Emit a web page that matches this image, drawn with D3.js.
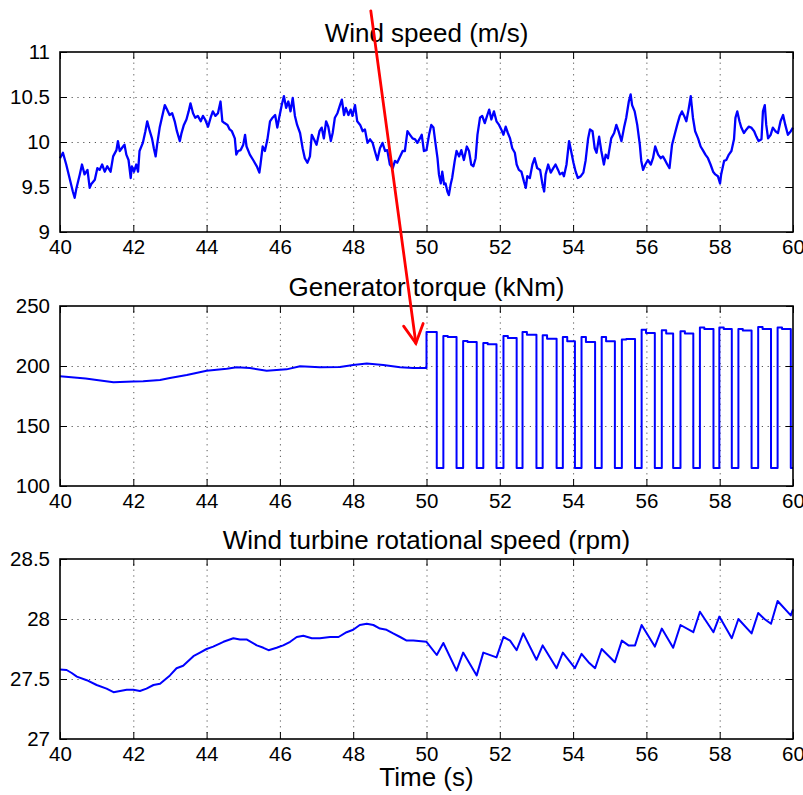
<!DOCTYPE html>
<html>
<head>
<meta charset="utf-8">
<script src="https://cdn.jsdelivr.net/npm/d3@7/dist/d3.min.js"></script>
<style>
  body { margin: 0; background: #fff; }
  svg { font-family: "Liberation Sans", Arial, Helvetica, sans-serif; }
  .grid line { stroke: #555; stroke-width: 1; stroke-dasharray: 1.2,4.6; }
  .grid path { display: none; }
  .tick text { fill: #000; }
</style>
</head>
<body>
<div id="chart"></div>
<script>
// Shared time axis (s)
const timeTicks = [40, 42, 44, 46, 48, 50, 52, 54, 56, 58, 60];

// Wind speed (m/s)
const windTime = [40.00, 40.08, 40.17, 40.26, 40.35, 40.40, 40.45, 40.54, 40.60, 40.67, 40.75, 40.81, 40.85, 40.95, 41.02, 41.08, 41.15, 41.22, 41.29, 41.38,
  41.45, 41.54, 41.58, 41.63, 41.72, 41.76, 41.81, 41.87, 41.93, 41.96, 42.02, 42.08, 42.13, 42.17, 42.26, 42.33, 42.38, 42.45, 42.51, 42.56,
  42.61, 42.65, 42.72, 42.78, 42.86, 42.92, 42.99, 43.06, 43.13, 43.19, 43.27, 43.31, 43.38, 43.45, 43.51, 43.56, 43.63, 43.69, 43.76, 43.84,
  43.90, 43.96, 44.04, 44.11, 44.17, 44.24, 44.31, 44.38, 44.43, 44.49, 44.57, 44.63, 44.69, 44.77, 44.81, 44.86, 44.93,
  45.00, 45.05, 45.09, 45.18, 45.27, 45.37, 45.44, 45.47, 45.53, 45.59, 45.66, 45.73, 45.80, 45.87, 45.93, 45.98, 46.05, 46.11, 46.17, 46.23,
  46.29, 46.35, 46.41, 46.47, 46.55, 46.62, 46.68, 46.75, 46.82, 46.87, 46.93, 47.00, 47.08, 47.14, 47.20, 47.26, 47.32, 47.39, 47.44, 47.50,
  47.57, 47.64, 47.69, 47.75, 47.80, 47.87, 47.93, 47.98, 48.05, 48.11, 48.19, 48.26, 48.32, 48.39, 48.46, 48.53, 48.59, 48.66, 48.73, 48.80,
  48.87, 48.93, 49.00, 49.08, 49.14, 49.20, 49.28, 49.35, 49.41, 49.48, 49.55, 49.62, 49.69, 49.75, 49.82, 49.87, 49.93,
  50.00, 50.07, 50.13, 50.19, 50.25, 50.30, 50.34, 50.39, 50.43, 50.48, 50.52, 50.57, 50.61, 50.66, 50.70, 50.77, 50.82, 50.89, 50.95, 51.02,
  51.10, 51.16, 51.22, 51.28, 51.34, 51.39, 51.46, 51.52, 51.59, 51.66, 51.71, 51.77, 51.84, 51.91, 51.98, 52.04, 52.10, 52.16, 52.22, 52.28,
  52.34, 52.41, 52.46, 52.52, 52.59, 52.66, 52.71, 52.75, 52.82, 52.89, 52.95, 53.02, 53.10, 53.16, 53.21, 53.25, 53.32, 53.39, 53.46, 53.52,
  53.59, 53.64, 53.71, 53.75, 53.82, 53.89, 53.93, 54.01, 54.07, 54.13, 54.21, 54.28, 54.34, 54.41, 54.46, 54.53, 54.59, 54.64, 54.71, 54.77,
  54.84, 54.89, 54.95,
  55.04, 55.12, 55.18, 55.24, 55.32, 55.39, 55.45, 55.52, 55.57, 55.61, 55.68, 55.75, 55.82, 55.86, 55.91, 55.97, 56.04, 56.12, 56.18, 56.24,
  56.32, 56.39, 56.45, 56.52, 56.57, 56.63, 56.70, 56.77, 56.84, 56.91, 56.97, 57.03, 57.09, 57.15, 57.21, 57.27, 57.33, 57.41, 57.48, 57.54,
  57.61, 57.68, 57.75, 57.82, 57.88, 57.95, 58.01, 58.04, 58.12, 58.18, 58.25, 58.32, 58.39, 58.43, 58.48, 58.54, 58.59, 58.66, 58.73, 58.79,
  58.86, 58.94, 59.00, 59.06, 59.14, 59.18, 59.23, 59.27, 59.32, 59.39, 59.45, 59.52, 59.59, 59.66, 59.73, 59.79, 59.86, 59.94, 60.00];
const windSpeed = [9.82, 9.88, 9.75, 9.60, 9.45, 9.38, 9.49, 9.64, 9.75, 9.64, 9.69, 9.49, 9.53, 9.58, 9.71, 9.69, 9.75, 9.67, 9.73, 9.67,
  9.84, 9.91, 10.01, 9.90, 9.95, 9.97, 9.86, 9.80, 9.60, 9.73, 9.67, 9.75, 9.67, 9.90, 9.99, 10.12, 10.23, 10.12, 10.04, 9.93,
  9.84, 9.97, 10.16, 10.27, 10.41, 10.36, 10.30, 10.32, 10.23, 10.12, 10.01, 10.09, 10.19, 10.25, 10.34, 10.43, 10.32, 10.27, 10.29, 10.23,
  10.29, 10.25, 10.17, 10.27, 10.34, 10.29, 10.32, 10.45, 10.23, 10.21, 10.19, 10.14, 10.12, 10.04, 9.86, 9.90, 9.91,
  9.97, 10.08, 9.95, 9.86, 9.80, 9.73, 9.66, 9.75, 9.95, 9.90, 10.03, 10.23, 10.27, 10.30, 10.16, 10.27, 10.41, 10.51, 10.38, 10.45,
  10.34, 10.49, 10.29, 10.19, 10.10, 9.93, 9.82, 9.77, 9.84, 10.08, 10.03, 9.97, 10.12, 10.16, 10.04, 10.23, 10.17, 10.01, 10.10, 10.27,
  10.32, 10.41, 10.47, 10.30, 10.38, 10.30, 10.36, 10.29, 10.41, 10.23, 10.19, 10.12, 10.14, 9.99, 10.03, 9.99, 9.90, 9.80, 9.93, 9.99,
  9.90, 9.91, 9.75, 9.71, 9.79, 9.77, 9.84, 9.90, 9.90, 10.12, 10.08, 10.04, 10.03, 9.99, 10.04, 10.08, 9.90,
  9.91, 10.08, 10.19, 10.16, 9.97, 9.82, 9.64, 9.54, 9.67, 9.53, 9.54, 9.45, 9.41, 9.53, 9.60, 9.79, 9.90, 9.84, 9.91, 9.80,
  9.95, 9.90, 9.75, 9.73, 9.82, 10.08, 10.27, 10.29, 10.21, 10.30, 10.36, 10.25, 10.34, 10.23, 10.19, 10.14, 10.08, 10.17, 10.10, 10.04,
  9.93, 9.88, 9.75, 9.69, 9.67, 9.56, 9.49, 9.62, 9.60, 9.75, 9.82, 9.71, 9.69, 9.54, 9.45, 9.64, 9.75, 9.66, 9.71, 9.75,
  9.69, 9.64, 9.66, 9.62, 9.75, 10.01, 9.93, 9.77, 9.67, 9.60, 9.62, 9.66, 9.79, 10.04, 10.14, 10.12, 9.93, 9.88, 10.06, 9.90,
  9.75, 9.86, 9.82,
  10.04, 10.10, 10.19, 10.12, 10.01, 10.16, 10.27, 10.45, 10.53, 10.41, 10.34, 10.19, 9.97, 9.79, 9.69, 9.75, 9.80, 9.75, 9.82, 9.95,
  9.86, 9.82, 9.84, 9.79, 9.75, 9.71, 9.97, 10.08, 10.19, 10.29, 10.34, 10.29, 10.23, 10.36, 10.51, 10.27, 10.12, 10.04, 9.95, 9.91,
  9.86, 9.82, 9.75, 9.67, 9.64, 9.62, 9.54, 9.64, 9.79, 9.80, 9.86, 9.90, 10.03, 10.27, 10.34, 10.23, 10.16, 10.10, 10.14, 10.17,
  10.16, 10.12, 10.06, 10.01, 10.03, 10.34, 10.41, 10.19, 10.04, 10.08, 10.16, 10.12, 10.10, 10.23, 10.30, 10.19, 10.08, 10.12, 10.16];

// Generator torque (kNm): smooth part up to 50 s
const torqueTime = [40.0, 40.7, 41.0, 41.46, 42.0, 42.27, 42.73, 43.0, 43.46, 44.0, 44.55, 44.82, 45.18, 45.64, 46.18, 46.55, 47.09, 47.64, 48.0, 48.37, 48.82, 49.28, 49.64, 50.0];
const torqueValue = [191.4, 189.5, 188.3, 186.4, 187.0, 187.2, 188.3, 190.0, 192.5, 196.1, 197.8, 198.9, 198.3, 196.1, 197.2, 199.8, 198.9, 199.2, 200.9, 202.0, 200.9, 198.9, 198.3, 198.3];
// ...then a pulse train after 50 s
const pulseOn = [50.00, 50.46, 51.00, 51.55, 52.10, 52.62, 53.17, 53.72, 54.23, 54.78, 55.33, 55.87, 56.42, 56.93, 57.46, 57.99, 58.51, 59.05, 59.58];
const pulseOff = [50.28, 50.82, 51.37, 51.91, 52.46, 53.00, 53.55, 54.05, 54.60, 55.14, 55.69, 56.23, 56.73, 57.28, 57.83, 58.33, 58.87, 59.40, 59.94];
const pulsePeak = [228.4, 225.0, 220.8, 219.2, 225.0, 228.4, 225.6, 224.2, 224.2, 224.2, 222.0, 230.3, 229.8, 228.9, 232.0, 232.0, 230.9, 232.5, 232.0];
const pulseHold = [228.4, 224.2, 220.0, 218.1, 223.4, 226.1, 222.8, 220.6, 220.0, 220.6, 222.5, 227.5, 227.0, 227.0, 230.9, 230.9, 229.5, 230.9, 230.9];
const pulseLow = 115;

// Wind turbine rotational speed (rpm)
const rotTime = [40.0, 40.18, 40.32, 40.46, 40.73, 41.0, 41.27, 41.46, 41.64, 41.82, 42.0, 42.18, 42.36, 42.55, 42.73, 43.0, 43.18, 43.36, 43.64, 43.82,
  44.0, 44.18, 44.46, 44.73, 44.91, 45.09, 45.37, 45.55, 45.69, 45.91, 46.09, 46.28, 46.46, 46.64, 46.87, 47.09, 47.37, 47.6, 47.82, 48.0,
  48.18, 48.37, 48.55, 48.73, 48.91, 49.09, 49.28, 49.46, 49.64, 50.0, 50.28, 50.46, 50.82, 51.0, 51.37, 51.55, 51.91, 52.1, 52.28, 52.46,
  52.64, 53.0, 53.17, 53.55, 53.72, 54.05, 54.23, 54.42, 54.6, 54.78, 55.14, 55.33, 55.51, 55.69, 55.87, 56.23, 56.42, 56.73, 56.93, 57.28,
  57.46, 57.83, 57.99, 58.33, 58.51, 58.87, 59.05, 59.22, 59.4, 59.58, 59.94, 60.0];
const rotSpeed = [27.58, 27.575, 27.55, 27.52, 27.49, 27.45, 27.42, 27.39, 27.40, 27.41, 27.41, 27.40, 27.42, 27.45, 27.46, 27.53, 27.59, 27.61, 27.69, 27.72,
  27.75, 27.77, 27.81, 27.84, 27.83, 27.83, 27.78, 27.76, 27.74, 27.76, 27.78, 27.81, 27.85, 27.86, 27.84, 27.84, 27.85, 27.85, 27.89, 27.91,
  27.95, 27.96, 27.95, 27.92, 27.91, 27.88, 27.85, 27.82, 27.82, 27.81, 27.70, 27.80, 27.57, 27.72, 27.53, 27.72, 27.68, 27.85, 27.82, 27.74,
  27.88, 27.66, 27.78, 27.59, 27.72, 27.59, 27.71, 27.64, 27.59, 27.75, 27.64, 27.82, 27.78, 27.78, 27.95, 27.77, 27.92, 27.76, 27.95, 27.89,
  28.06, 27.89, 28.02, 27.84, 28.00, 27.88, 28.05, 28.00, 27.96, 28.15, 28.03, 28.08];

// Red annotation arrow, in the torque panel's data units
const arrowFrom = [48.48, 496];
const arrowTo = [49.71, 219];

// Layout
const W = 803, H = 795;
const left = 60, plotW = 733, plotH = 180;
const tops = [52, 306, 559];

// Build torque points: smooth part, then the pulses
const torquePts = torqueTime.map((t, i) => [t, torqueValue[i]]);
pulseOn.forEach((t0, i) => {
  const prev = torquePts[torquePts.length - 1][1];
  const t1 = pulseOff[i];
  const tStep = t0 + 0.12;
  torquePts.push([t0, prev], [t0, pulsePeak[i]], [tStep, pulsePeak[i]], [tStep, pulseHold[i]],
                 [t1, pulseHold[i]], [t1, pulseLow]);
});
torquePts.push([60, pulseLow]);

const panels = [
  { title: "Wind speed (m/s)", domain: [9, 11], ticks: [9, 9.5, 10, 10.5, 11],
    pts: windTime.map((t, i) => [t, windSpeed[i]]), width: 2.3 },
  { title: "Generator torque (kNm)", domain: [100, 250], ticks: [100, 150, 200, 250],
    pts: torquePts, width: 2 },
  { title: "Wind turbine rotational speed (rpm)", domain: [27, 28.5], ticks: [27, 27.5, 28, 28.5],
    pts: rotTime.map((t, i) => [t, rotSpeed[i]]), width: 2 }
];

const svg = d3.select("#chart").append("svg")
  .attr("width", W)
  .attr("height", H);

svg.append("rect").attr("width", W).attr("height", H).attr("fill", "#fff");

const x = d3.scaleLinear().domain([40, 60]).range([0, plotW]);
let torqueY;

panels.forEach((p, k) => {
  const y = d3.scaleLinear().domain(p.domain).range([plotH, 0]);
  if (k === 1) torqueY = y;

  const g = svg.append("g").attr("transform", `translate(${left},${tops[k]})`);

  // dotted grid
  g.append("g").attr("class", "grid")
    .attr("transform", `translate(0,${plotH})`)
    .call(d3.axisBottom(x).tickValues(timeTicks.slice(1, -1)).tickSize(-plotH).tickFormat(""));
  g.append("g").attr("class", "grid")
    .call(d3.axisLeft(y).tickValues(p.ticks.slice(1, -1)).tickSize(-plotW).tickFormat(""));

  // the data line
  g.append("path")
    .datum(p.pts)
    .attr("fill", "none")
    .attr("stroke", "#0000ff")
    .attr("stroke-width", p.width)
    .attr("stroke-linejoin", "round")
    .attr("d", d3.line().x(d => x(d[0])).y(d => y(d[1])));

  // axes with inward ticks on all four sides
  const bottom = g.append("g")
    .attr("transform", `translate(0,${plotH})`)
    .call(d3.axisBottom(x).tickValues(timeTicks).tickSize(-7).tickPadding(7).tickFormat(d => d));
  const leftAx = g.append("g")
    .call(d3.axisLeft(y).tickValues(p.ticks).tickSize(-7).tickPadding(10).tickFormat(d => String(d)));
  g.append("g").call(d3.axisTop(x).tickValues(timeTicks).tickSize(-7).tickFormat(""));
  g.append("g").attr("transform", `translate(${plotW},0)`)
    .call(d3.axisRight(y).tickValues(p.ticks).tickSize(-7).tickFormat(""));

  g.selectAll(".domain").remove();
  g.selectAll(".tick line").filter(function() { return !this.parentNode.parentNode.classList.contains("grid"); })
    .attr("stroke", "#000").attr("stroke-width", 1);
  bottom.selectAll("text").style("font-size", "20.5px");
  leftAx.selectAll("text").style("font-size", "20.5px");

  // frame
  g.append("rect")
    .attr("width", plotW)
    .attr("height", plotH)
    .attr("fill", "none")
    .attr("stroke", "#000")
    .attr("stroke-width", 1.6);

  // title
  g.append("text")
    .attr("x", plotW / 2)
    .attr("y", -10.5)
    .attr("text-anchor", "middle")
    .style("font-size", "26px")
    .text(p.title);
});

// x axis label
svg.append("text")
  .attr("x", left + plotW / 2)
  .attr("y", 786)
  .attr("text-anchor", "middle")
  .style("font-size", "26px")
  .text("Time (s)");

// Red arrow pointing at the start of the pulses
const ax = d => left + x(d[0]);
const ay = d => tops[1] + torqueY(d[1]);
const x0 = ax(arrowFrom), y0 = ay(arrowFrom), x1 = ax(arrowTo), y1 = ay(arrowTo);
const ang = Math.atan2(y0 - y1, x0 - x1);
const headLen = 21, headAng = 28 * Math.PI / 180;
const arrow = svg.append("g")
  .attr("stroke", "#ff0000")
  .attr("stroke-width", 2.8)
  .attr("fill", "none")
  .attr("stroke-linecap", "round");
arrow.append("line").attr("x1", x0).attr("y1", y0).attr("x2", x1).attr("y2", y1);
arrow.append("path").attr("d", d3.line()([
  [x1 + headLen * Math.cos(ang - headAng), y1 + headLen * Math.sin(ang - headAng)],
  [x1, y1],
  [x1 + headLen * Math.cos(ang + headAng), y1 + headLen * Math.sin(ang + headAng)]
]));
</script>
</body>
</html>
